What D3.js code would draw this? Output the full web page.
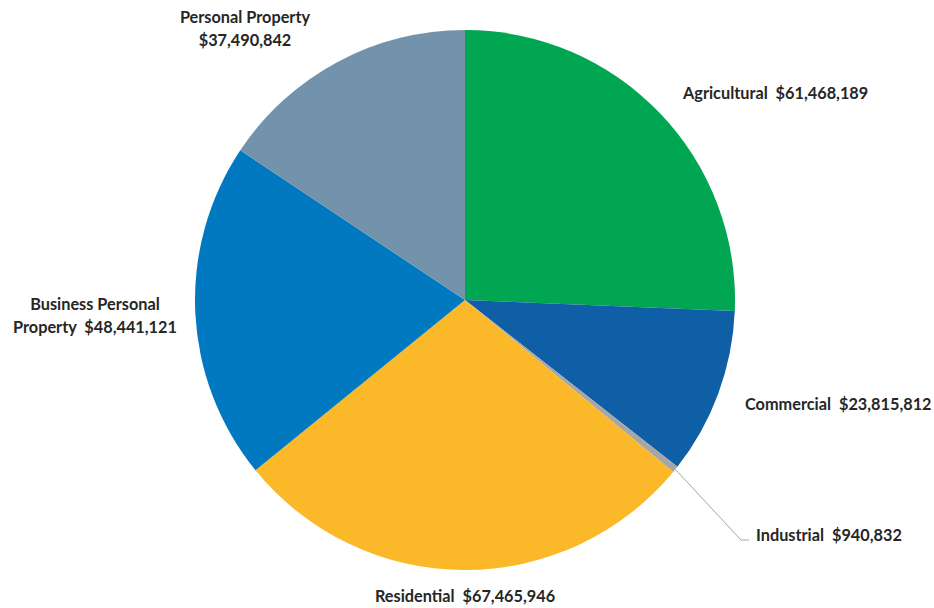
<!DOCTYPE html>
<html>
<head>
<meta charset="utf-8">
<script src="https://cdn.jsdelivr.net/npm/d3@7"></script>
<style>
    body { margin: 0; background: #fff; }
    text { font-family: Lato, "Open Sans", sans-serif; font-weight: bold; font-size: 16.3px; fill: #262626; white-space: pre; }
</style>
</head>
<body>
<div id="chart"></div>
<script>
// Chart data
var categories = ["Agricultural", "Commercial", "Industrial", "Residential", "Business Personal Property", "Personal Property"];
var values = [61468189, 23815812, 940832, 67465946, 48441121, 37490842];
var colors = ["#00A651", "#0F5FA6", "#A6A6A6", "#FBB829", "#0079C1", "#7393AD"];

var w = 934;
var h = 608;
var cx = 465;
var cy = 300;
var radius = 270;

var fmt = d3.format("$,");

// label layout (lines, anchor x, first baseline y, text-anchor)
var labelLayout = [
    { lines: function(c, v) { return [c + "  " + v]; }, x: 683, y: 99, anchor: "start" },
    { lines: function(c, v) { return [c + "  " + v]; }, x: 745, y: 410, anchor: "start" },
    { lines: function(c, v) { return [c + "  " + v]; }, x: 756, y: 541, anchor: "start" },
    { lines: function(c, v) { return [c + "  " + v]; }, x: 465, y: 602, anchor: "middle" },
    { lines: function(c, v) { return ["Business Personal", "Property  " + v]; }, x: 95, y: 310, anchor: "middle" },
    { lines: function(c, v) { return [c, v]; }, x: 245, y: 23, anchor: "middle" }
];

var svg = d3.select("#chart")
    .append("svg")
    .attr("width", w)
    .attr("height", h);

var pie = d3.pie().sort(null).value(d => d.value);
var arc = d3.arc().innerRadius(0).outerRadius(radius);

var dataset = categories.map(function(c, i) {
    return { category: c, value: values[i], color: colors[i], layout: labelLayout[i] };
});

var arcs = pie(dataset);

var g = svg.append("g").attr("transform", `translate(${cx},${cy})`);

g.selectAll("path.slice")
    .data(arcs)
    .enter()
    .append("path")
    .attr("class", "slice")
    .attr("d", arc)
    .attr("fill", d => d.data.color);

// leader line for the tiny Industrial slice
var ind = arcs[2];
var mid = (ind.startAngle + ind.endAngle) / 2;
var p0 = [Math.sin(mid) * radius, -Math.cos(mid) * radius];
g.append("polyline")
    .attr("points", [p0, [741 - cx, 540 - cy], [749 - cx, 540 - cy]].map(p => p.join(",")).join(" "))
    .attr("fill", "none")
    .attr("stroke", "#A6A6A6")
    .attr("stroke-width", 1);

// labels
arcs.forEach(function(d) {
    var lay = d.data.layout;
    var t = svg.append("text")
        .attr("x", lay.x)
        .attr("y", lay.y)
        .attr("text-anchor", lay.anchor);
    lay.lines(d.data.category, fmt(d.data.value)).forEach(function(line, i) {
        t.append("tspan")
            .attr("x", lay.x)
            .attr("dy", i === 0 ? 0 : 22.5)
            .text(line);
    });
});
</script>
</body>
</html>
